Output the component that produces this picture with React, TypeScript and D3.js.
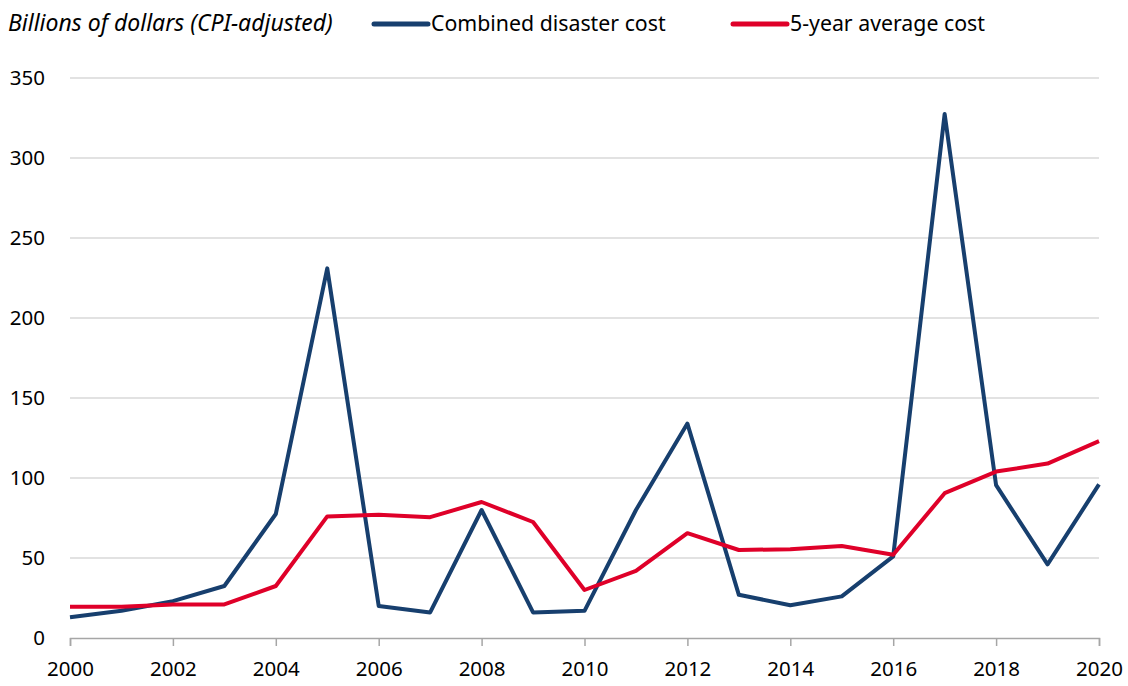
import * as d3 from 'd3';
import { useEffect, useRef } from 'react';

// Chart data
const years = [2000, 2001, 2002, 2003, 2004, 2005, 2006, 2007, 2008, 2009, 2010,
  2011, 2012, 2013, 2014, 2015, 2016, 2017, 2018, 2019, 2020];
const combinedCost = [13, 17, 23, 32.5, 77.5, 231, 20, 16, 80, 16, 17,
  80, 134, 27, 20.5, 26, 51, 327.5, 95.5, 46, 96];
const fiveYearAvg = [19.5, 19.5, 21, 21, 32.5, 76, 77, 75.5, 85, 72.5, 30,
  42, 65.5, 55, 55.5, 57.5, 52, 90.5, 104, 109, 123];
const yTicks = [0, 50, 100, 150, 200, 250, 300, 350];
const xTicks = [2000, 2002, 2004, 2006, 2008, 2010, 2012, 2014, 2016, 2018, 2020];

const W = 1128;
const H = 686;
const FONT = '"Noto Sans", sans-serif';
const BLUE = '#173f6e';
const RED = '#df0029';

export default function App() {
  const svgRef = useRef<SVGSVGElement>(null);

  useEffect(() => {
    if (!svgRef.current) return;
    const margin = { top: 78, right: 29, bottom: 48, left: 70 };

    const svg = d3.select(svgRef.current);
    svg.selectAll('*').remove();

    const x = d3.scaleLinear().domain([2000, 2020]).range([margin.left, W - margin.right]);
    const y = d3.scaleLinear().domain([0, 350]).range([H - margin.bottom, margin.top]);

    // gridlines
    svg.append('g')
      .selectAll('line')
      .data(yTicks.filter(t => t > 0))
      .join('line')
      .attr('x1', x(2000))
      .attr('x2', x(2020))
      .attr('y1', d => y(d))
      .attr('y2', d => y(d))
      .attr('stroke', '#d9d9d9')
      .attr('stroke-width', 1.5);

    // y labels
    svg.append('g')
      .selectAll('text')
      .data(yTicks)
      .join('text')
      .attr('x', 45)
      .attr('y', d => y(d))
      .attr('dy', '0.35em')
      .attr('text-anchor', 'end')
      .attr('font-family', FONT)
      .attr('font-size', 20.5)
      .attr('fill', '#000')
      .text(d => d);

    // x axis
    const xAxis = d3.axisBottom(x)
      .tickValues(xTicks)
      .tickFormat(d3.format('d'))
      .tickSize(8)
      .tickPadding(15);

    svg.append('g')
      .attr('transform', `translate(0,${y(0)})`)
      .call(xAxis)
      .call(g => g.select('.domain').attr('stroke', '#a6a6a6').attr('stroke-width', 1.5))
      .call(g => g.selectAll('.tick line').attr('stroke', '#a6a6a6').attr('stroke-width', 1.5))
      .call(g => g.selectAll('.tick text')
        .attr('font-family', FONT)
        .attr('font-size', 20.5)
        .attr('fill', '#000'));

    const line = d3.line<number>()
      .x((d, i) => x(years[i]))
      .y(d => y(d));

    svg.append('path')
      .datum(combinedCost)
      .attr('fill', 'none')
      .attr('stroke', BLUE)
      .attr('stroke-width', 4)
      .attr('stroke-linejoin', 'round')
      .attr('d', line);

    svg.append('path')
      .datum(fiveYearAvg)
      .attr('fill', 'none')
      .attr('stroke', RED)
      .attr('stroke-width', 4)
      .attr('stroke-linejoin', 'round')
      .attr('d', line);

    // title & legend
    svg.append('text')
      .attr('x', 8)
      .attr('y', 31)
      .attr('font-family', FONT)
      .attr('font-style', 'italic')
      .attr('font-size', 23)
      .text('Billions of dollars (CPI-adjusted)');

    const legend = [
      { label: 'Combined disaster cost', color: BLUE, x: 374 },
      { label: '5-year average cost', color: RED, x: 733 },
    ];
    const lg = svg.append('g');
    legend.forEach(item => {
      lg.append('line')
        .attr('x1', item.x)
        .attr('x2', item.x + 54)
        .attr('y1', 24)
        .attr('y2', 24)
        .attr('stroke', item.color)
        .attr('stroke-width', 5)
        .attr('stroke-linecap', 'round');
      lg.append('text')
        .attr('x', item.x + 57)
        .attr('y', 31)
        .attr('font-family', FONT)
        .attr('font-size', 21.3)
        .text(item.label);
    });
  }, []);

  return (
    <svg
      ref={svgRef}
      width={W}
      height={H}
      style={{ position: 'absolute', left: 0, top: 0, background: '#fff' }}
    />
  );
}
